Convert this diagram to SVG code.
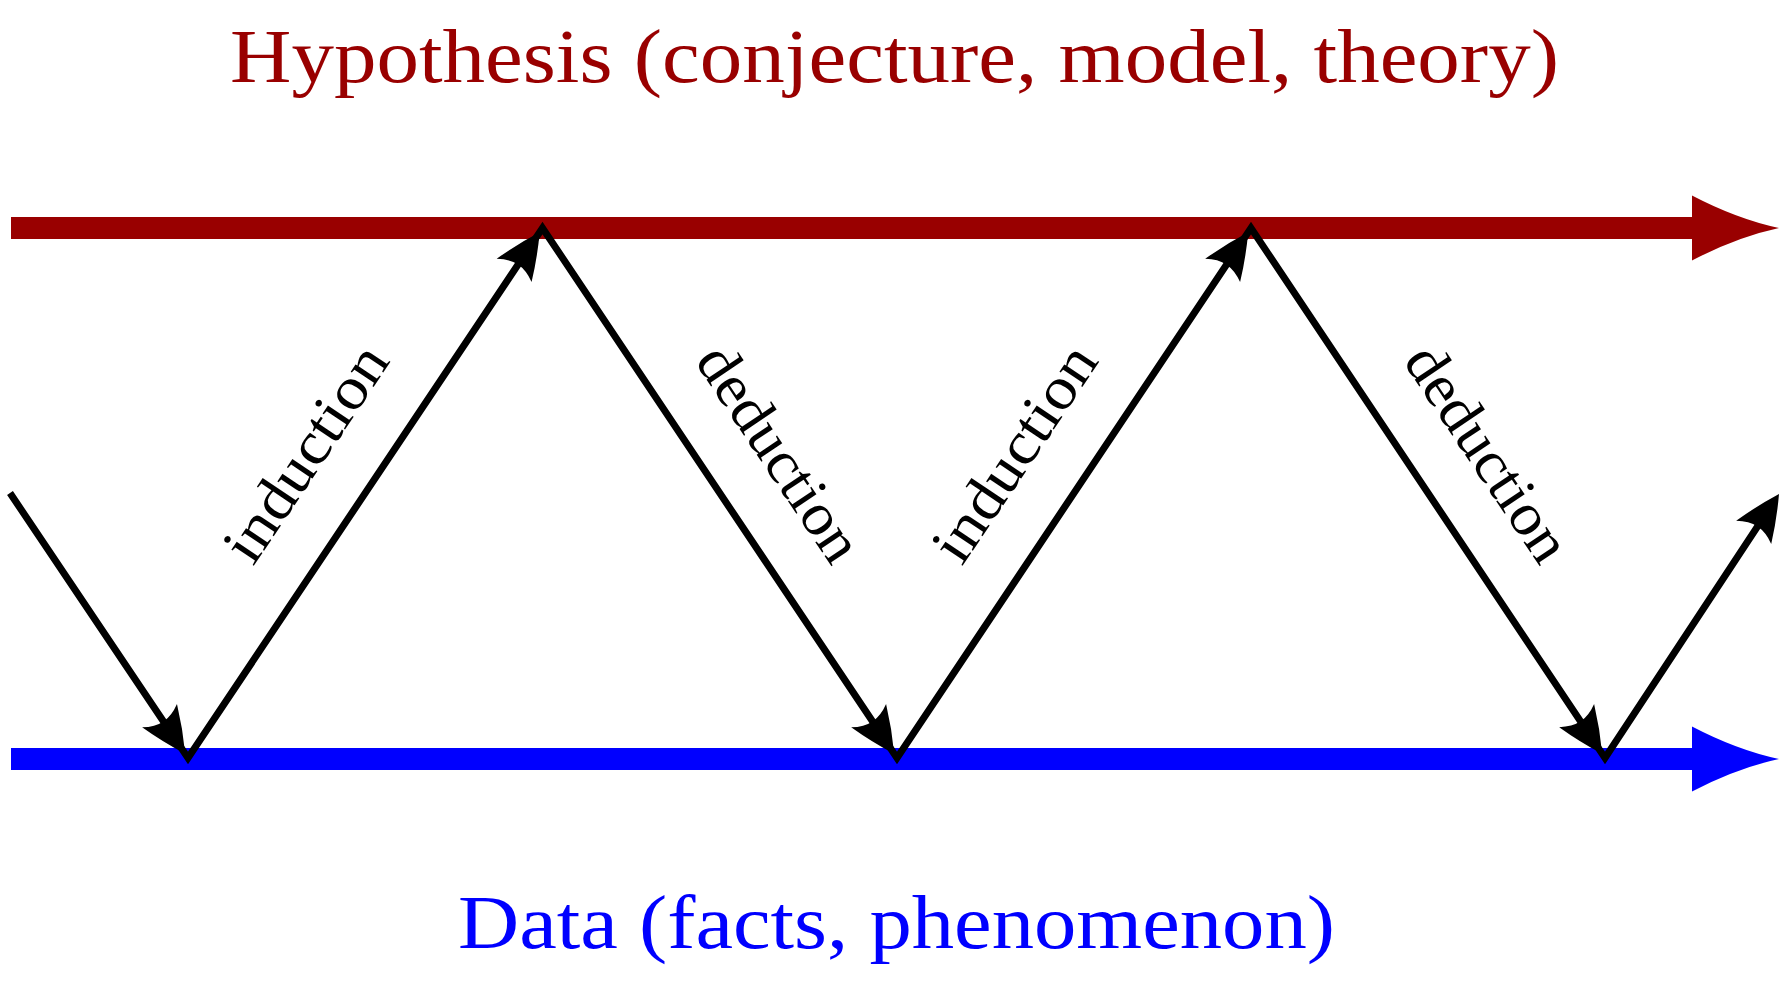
<svg xmlns="http://www.w3.org/2000/svg" width="1790" height="988" viewBox="0 0 1790 988">
  <style>
    .title { font-family: "Liberation Serif", "Times New Roman", serif; font-size: 76px; }
    .lbl { font-family: "Liberation Serif", "Times New Roman", serif; font-size: 60px; fill: #000; text-anchor: middle; }
    .zig { fill: none; stroke: #000; stroke-width: 7; stroke-linejoin: miter; stroke-miterlimit: 10; }
    .ah { fill: none; stroke: none; marker-end: url(#head); }
  </style>
  <defs>
    <marker id="head" markerUnits="userSpaceOnUse" viewBox="0 0 54 54" refX="50" refY="27" markerWidth="54" markerHeight="54" orient="auto">
      <path d="M50,27 Q28,15 4,6 Q11,17 11,27 Q11,37 4,48 Q28,39 50,27 Z" fill="#000"/>
    </marker>
  </defs>
  <rect width="1790" height="988" fill="#fff"/>

  <g id="hypothesis">
    <path d="M11,217 H1692 V195.5 Q1737,219 1779,228 Q1737,237 1692,260.5 V239 H11 Z" fill="#990000"/>
    <text class="title" x="230" y="82" fill="#990000" textLength="1329" lengthAdjust="spacingAndGlyphs">Hypothesis (conjecture, model, theory)</text>
  </g>

  <g id="data">
    <path d="M11,748 H1692 V726.5 Q1737,750 1779,759 Q1737,768 1692,791.5 V770 H11 Z" fill="#0000ff"/>
    <text class="title" x="458" y="948" fill="#0000ff" textLength="877" lengthAdjust="spacingAndGlyphs">Data (facts, phenomenon)</text>
  </g>

  <g id="connectors">
    <polyline class="zig" points="10,493 188,758 542.5,228 897,758 1251,228 1605,758 1773,503"/>
    <line class="ah" x1="10" y1="493" x2="185.2" y2="753.8"/>
    <line class="ah" x1="188" y1="758" x2="539.7" y2="232.2"/>
    <line class="ah" x1="542.5" y1="228" x2="894.2" y2="753.8"/>
    <line class="ah" x1="897" y1="758" x2="1248.2" y2="232.2"/>
    <line class="ah" x1="1251" y1="228" x2="1602.2" y2="753.8"/>
    <line class="ah" x1="1605" y1="758" x2="1779" y2="494"/>
    <g id="labels">
      <text class="lbl" transform="translate(365.25,493) rotate(-56.2)" x="0" y="-52" textLength="248" lengthAdjust="spacingAndGlyphs">induction</text>
      <text class="lbl" transform="translate(719.75,493) rotate(56.2)" x="0" y="-52" textLength="248" lengthAdjust="spacingAndGlyphs">deduction</text>
      <text class="lbl" transform="translate(1074,493) rotate(-56.2)" x="0" y="-52" textLength="248" lengthAdjust="spacingAndGlyphs">induction</text>
      <text class="lbl" transform="translate(1428,493) rotate(56.2)" x="0" y="-52" textLength="248" lengthAdjust="spacingAndGlyphs">deduction</text>
    </g>
  </g>
</svg>
